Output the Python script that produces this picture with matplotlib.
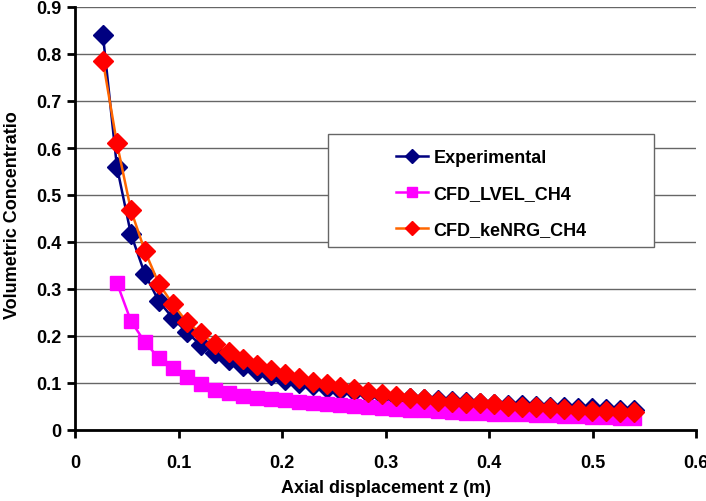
import matplotlib.pyplot as plt
from matplotlib.patches import Rectangle

plt.rcParams['font.family'] = ['Liberation Sans', 'DejaVu Sans']
plt.rcParams['font.weight'] = 'bold'

# Axial positions (m)
z = [0.027, 0.0405, 0.054, 0.0675, 0.081, 0.0945, 0.108, 0.1215, 0.135, 0.1485,
     0.162, 0.1755, 0.189, 0.2025, 0.216, 0.2295, 0.243, 0.2565, 0.270, 0.2835,
     0.297, 0.3105, 0.324, 0.3375, 0.351, 0.3645, 0.378, 0.3915, 0.405, 0.4185,
     0.432, 0.4455, 0.459, 0.4725, 0.486, 0.4995, 0.513, 0.5265, 0.540]

experimental = [0.84, 0.56, 0.417, 0.332, 0.274, 0.238, 0.208, 0.181, 0.164, 0.149,
                0.136, 0.125, 0.116, 0.107, 0.100, 0.095, 0.090, 0.086, 0.082, 0.078,
                0.074, 0.071, 0.068, 0.066, 0.064, 0.062, 0.060, 0.058, 0.056, 0.054,
                0.053, 0.051, 0.050, 0.048, 0.047, 0.046, 0.045, 0.043, 0.042]

# LVEL starts at the second station
z_lvel = z[1:]
cfd_lvel = [0.313, 0.232, 0.187, 0.153, 0.132, 0.113, 0.098, 0.085, 0.078,
            0.073, 0.069, 0.066, 0.063, 0.060, 0.057, 0.055, 0.053, 0.051, 0.049,
            0.047, 0.045, 0.043, 0.042, 0.040, 0.039, 0.037, 0.036, 0.035, 0.034,
            0.033, 0.032, 0.031, 0.030, 0.029, 0.028, 0.027, 0.026, 0.025]

cfd_kenrg = [0.785, 0.61, 0.468, 0.381, 0.311, 0.268, 0.230, 0.206, 0.183, 0.166,
             0.151, 0.138, 0.128, 0.119, 0.110, 0.103, 0.098, 0.091, 0.087, 0.081,
             0.077, 0.073, 0.068, 0.065, 0.062, 0.059, 0.058, 0.057, 0.055, 0.052,
             0.050, 0.049, 0.047, 0.045, 0.043, 0.041, 0.040, 0.039, 0.038]

fig = plt.figure(figsize=(7.06, 5.02), dpi=100)
ax = fig.add_axes([75 / 706, 1 - 431 / 502, 621 / 706, 423 / 502])

ax.plot(z, experimental, color='#000080', lw=1.8, marker='D', ms=10.5,
        mfc='#000080', mec='#000080', label='Experimental', zorder=3)
ax.plot(z_lvel, cfd_lvel, color='#FF00FF', lw=1.8, marker='s', ms=9.5,
        mfc='#FF00FF', mec='#FF00FF', label='CFD_LVEL_CH4', zorder=4)
ax.plot(z, cfd_kenrg, color='#FF6600', lw=1.8, marker='D', ms=10.5,
        mfc='#FF0000', mec='#FF0000', label='CFD_keNRG_CH4', zorder=5)

ax.set_xlim(0, 0.6)
ax.set_ylim(0, 0.9)
ax.set_xticks([0, 0.1, 0.2, 0.3, 0.4, 0.5, 0.6])
ax.set_xticklabels(['0', '0.1', '0.2', '0.3', '0.4', '0.5', '0.6'])
ax.set_yticks([0, 0.1, 0.2, 0.3, 0.4, 0.5, 0.6, 0.7, 0.8, 0.9])
ax.set_yticklabels(['0', '0.1', '0.2', '0.3', '0.4', '0.5', '0.6', '0.7', '0.8', '0.9'])
ax.yaxis.grid(True, color='#666666', lw=1.0)
ax.set_axisbelow(True)
ax.tick_params(axis='both', direction='out', length=6, width=2, labelsize=13)
ax.tick_params(axis='x', pad=11)
ax.tick_params(axis='y', pad=4)
for s in ['top', 'right']:
    ax.spines[s].set_visible(False)
for s in ['left', 'bottom']:
    ax.spines[s].set_linewidth(2)
    ax.spines[s].set_zorder(6)

ax.set_xlabel('Axial displacement z (m)', fontsize=13, fontweight='bold', labelpad=6)
fig.text(13 / 706, 1 - 215 / 502, 'Volumetric Concentratio', rotation=90,
         fontsize=13, fontweight='bold', ha='center', va='center')

# legend box
fig.patches.append(Rectangle((328 / 706, 1 - 248 / 502), 326 / 706, 113 / 502,
                             transform=fig.transFigure, facecolor='white',
                             edgecolor='#666666', lw=1.0, zorder=10))
leg = ax.legend(loc='upper left', bbox_to_anchor=(380 / 706, 1 - 134 / 502),
                bbox_transform=fig.transFigure, frameon=False, fontsize=13,
                handlelength=1.75, handletextpad=0.3, labelspacing=1.05,
                markerscale=0.7)
leg.set_zorder(11)
fig.legends.append(ax.legend_)
ax.legend_ = None

fig.savefig('out.png', dpi=100)
